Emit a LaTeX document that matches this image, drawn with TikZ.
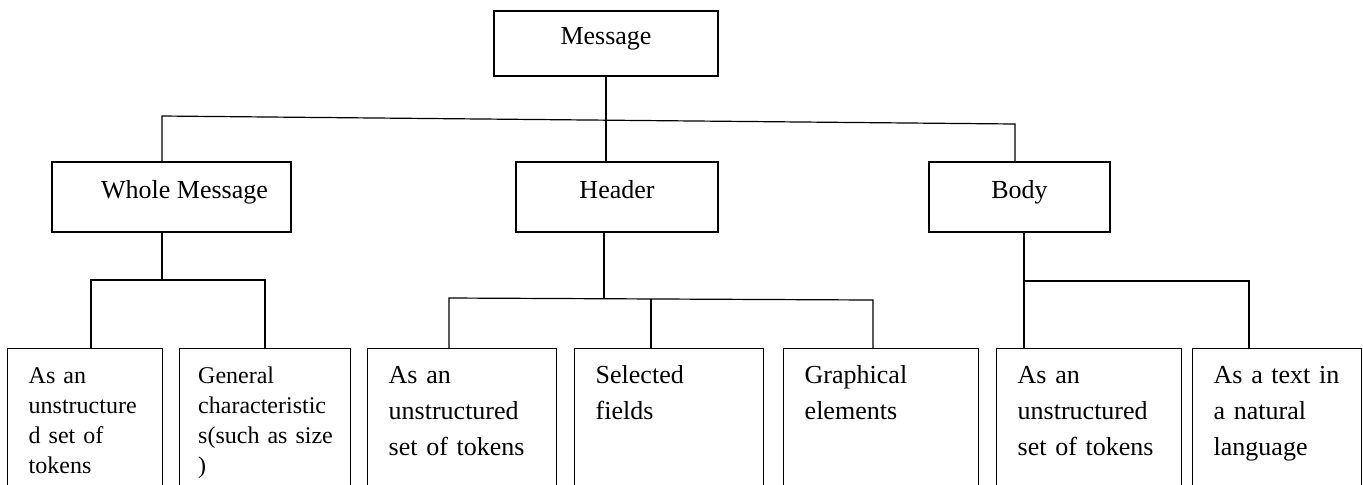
\documentclass[tikz,border=0pt]{standalone}
\usepackage{fontspec}
\setmainfont{Liberation Serif}

\begin{document}
\begin{tikzpicture}[
            x=0.5pt, y=-0.5pt,
            box/.style={rectangle, draw, line width=0.7pt, inner sep=0pt, minimum height=35pt, text height=9pt, text depth=8pt, font=\fontsize{13}{16}\selectfont},
            leaf/.style={rectangle, draw, line width=0.7pt, anchor=north west, align=left, inner xsep=10.5pt, inner ysep=0pt, text height=17.5pt, text depth=60pt, font=\fontsize{13}{18}\selectfont},
            narrowleaf/.style={font=\fontsize{12}{15}\selectfont},
            link/.style={line width=0.6pt}
        ]
        \path[use as bounding box] (0,0) rectangle (1363,484);
        \clip (0,0) rectangle (1363,484);

        % Root
        \node[box, minimum width=112pt, minimum height=32.5pt] (msg) at (606,43.5) {Message};

        % Parts of the message
        \node[box, minimum width=119.5pt] (whole) at (171.5,197) {\hspace*{13pt}Whole Message};
        \node[box, minimum width=101pt] (header) at (617,197) {Header};
        \node[box, minimum width=90.5pt] (body) at (1019.5,197) {Body};

        % Leaves
        \node[leaf, narrowleaf, text width=56.5pt] (wtok) at (7,348) {As an\\unstructure\\d set of\\tokens};
        \node[leaf, narrowleaf, inner xsep=9.25pt, text width=67pt] (wgen) at (179,348) {General\\characteristic\\\mbox{s(such as size}\\)};
        \node[leaf, text width=73.5pt] (htok) at (367,348) {As an\\unstructured\\set of tokens};
        \node[leaf, text width=73.5pt] (hsel) at (574,348) {Selected\\fields};
        \node[leaf, text width=76.5pt] (hgra) at (783,348) {Graphical\\elements};
        \node[leaf, text width=71.5pt] (btok) at (996,348) {As an\\unstructured\\set of tokens};
        \node[leaf, text width=63.5pt] (bnat) at (1192,348) {As a text in\\a natural\\language};

        % Junctions
        \coordinate (barL) at (162,116);
        \coordinate (barR) at (1015,124);
        \coordinate (wJ) at (162,280);
        \coordinate (wL) at (91,280);
        \coordinate (wR) at (265,280);
        \coordinate (hJ) at (604,298);
        \coordinate (hL) at (449,298);
        \coordinate (hM) at (651,298.5);
        \coordinate (hR) at (873,300);
        \coordinate (bJ) at (1024,281);
        \coordinate (bR) at (1249,281);

        % Top level
        \draw[link] (msg.south) -- (msg.south |- header.north);
        \draw[link] (barL |- whole.north) -- (barL) -- (barR) -- (barR |- body.north);

        % Whole message
        \draw[link] (wJ |- whole.south) -- (wJ);
        \draw[link] (wL |- wtok.north) -- (wL) -- (wR) -- (wR |- wgen.north);

        % Header
        \draw[link] (hJ |- header.south) -- (hJ);
        \draw[link] (hL |- htok.north) -- (hL) -- (hR) -- (hR |- hgra.north);
        \draw[link] (hM) -- (hM |- hsel.north);

        % Body
        \draw[link] (bJ |- body.south) -- (bJ |- btok.north);
        \draw[link] (bJ) -- (bR) -- (bR |- bnat.north);

        \end{tikzpicture}
\end{document}
